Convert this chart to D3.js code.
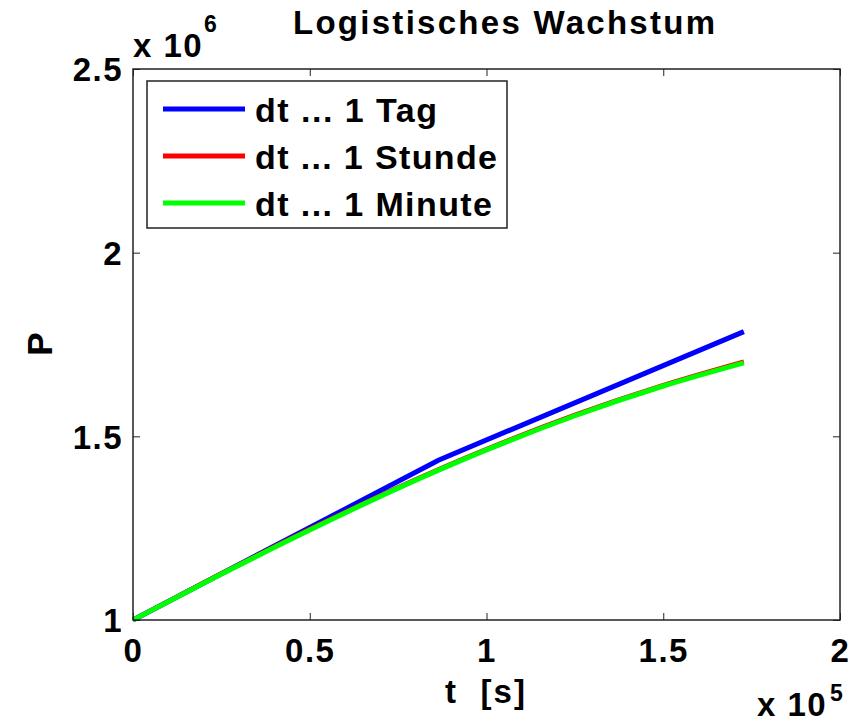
<!DOCTYPE html>
<html>
<head>
<meta charset="utf-8">
<script src="https://cdn.jsdelivr.net/npm/d3@7"></script>
<style>
  body { margin: 0; background: #fff; }
  text { font-family: "Liberation Sans", Arial, sans-serif; font-weight: bold; fill: #000; }
</style>
</head>
<body>
<svg id="chart" width="856" height="723"></svg>
<script>
// t in units of 1e5 s, P in units of 1e6
var seriesNames = ["dt ... 1 Tag", "dt ... 1 Stunde", "dt ... 1 Minute"];
var seriesColors = ["#0000ff", "#ff0000", "#00ff00"];

var tagT = [0, 0.864, 1.728];
var tagP = [1.0, 1.435, 1.785];

var stundeT = [0, 0.25, 0.5, 0.75, 1.0, 1.25, 1.5, 1.728];
var stundeP = [1.0, 1.127, 1.248, 1.362, 1.466, 1.559, 1.640, 1.704];

var minuteT = [0, 0.25, 0.5, 0.75, 1.0, 1.25, 1.5, 1.728];
var minuteP = [1.0, 1.125, 1.245, 1.359, 1.463, 1.556, 1.637, 1.700];

var xTicks = [0, 0.5, 1, 1.5, 2];
var yTicks = [1, 1.5, 2, 2.5];

(function() {
  var svg = d3.select("#chart");

  // axes box
  var mLeft = 133, mRight = 840, mTop = 69, mBottom = 620;

  var x = d3.scaleLinear().domain([0, 2]).range([mLeft, mRight]);
  var y = d3.scaleLinear().domain([1, 2.5]).range([mBottom, mTop]);

  function zip(ts, ps) { return ts.map(function(t, i) { return [t, ps[i]]; }); }
  var series = [zip(tagT, tagP), zip(stundeT, stundeP), zip(minuteT, minuteP)];

  // lines (blue is straight Euler steps, the others smooth)
  series.forEach(function(s, i) {
    var line = d3.line()
      .x(function(d) { return x(d[0]); })
      .y(function(d) { return y(d[1]); })
      .curve(i == 0 ? d3.curveLinear : d3.curveMonotoneX);
    svg.append("path")
      .datum(s)
      .attr("fill", "none")
      .attr("stroke", seriesColors[i])
      .attr("stroke-width", i == 1 ? 4 : 5)
      .attr("d", line);
  });

  // axes, ticks pointing inward
  var tickLen = 7;
  svg.append("g")
    .attr("transform", "translate(0," + mBottom + ")")
    .call(d3.axisBottom(x).tickValues(xTicks).tickSize(-tickLen)
      .tickFormat(function(d) { return d; }))
    .call(function(g) {
      g.select(".domain").remove();
      g.selectAll("text").attr("font-size", 33).attr("font-family", null)
        .attr("letter-spacing", 1.5).attr("y", 42).attr("dy", null);
    });
  svg.append("g")
    .attr("transform", "translate(0," + mTop + ")")
    .call(d3.axisTop(x).tickValues(xTicks).tickSize(-tickLen).tickFormat(""))
    .call(function(g) { g.select(".domain").remove(); });
  svg.append("g")
    .attr("transform", "translate(" + mLeft + ",0)")
    .call(d3.axisLeft(y).tickValues(yTicks).tickSize(-tickLen).tickPadding(10)
      .tickFormat(function(d) { return d; }))
    .call(function(g) {
      g.select(".domain").remove();
      g.selectAll("text").attr("font-size", 33).attr("font-family", null)
        .attr("letter-spacing", 1.5).attr("dy", "0.36em");
    });
  svg.append("g")
    .attr("transform", "translate(" + mRight + ",0)")
    .call(d3.axisRight(y).tickValues(yTicks).tickSize(-tickLen).tickFormat(""))
    .call(function(g) { g.select(".domain").remove(); });

  svg.selectAll(".tick line").attr("stroke", "#222");

  svg.append("rect")
    .attr("x", mLeft).attr("y", mTop)
    .attr("width", mRight - mLeft).attr("height", mBottom - mTop)
    .attr("fill", "none").attr("stroke", "#222").attr("stroke-width", 1.5);

  // legend
  var legendLen = [182, 242, 237];
  var legend = svg.append("g");
  legend.append("rect")
    .attr("x", 147).attr("y", 81).attr("width", 360).attr("height", 147)
    .attr("fill", "#fff").attr("stroke", "#222").attr("stroke-width", 1.5);
  seriesNames.forEach(function(name, i) {
    var ly = 109 + i * 47;
    legend.append("line")
      .attr("x1", 163).attr("x2", 245).attr("y1", ly).attr("y2", ly)
      .attr("stroke", seriesColors[i]).attr("stroke-width", 5);
    legend.append("text")
      .attr("x", 255).attr("y", ly + 13)
      .attr("font-size", 34)
      .attr("textLength", legendLen[i]).attr("lengthAdjust", "spacing")
      .text(name);
  });

  // title and labels
  svg.append("text")
    .attr("x", 293).attr("y", 34)
    .attr("font-size", 33)
    .attr("textLength", 422).attr("lengthAdjust", "spacing")
    .text("Logistisches Wachstum");

  svg.append("text")
    .attr("x", 445).attr("y", 703)
    .attr("font-size", 33)
    .attr("textLength", 80).attr("lengthAdjust", "spacing")
    .attr("xml:space", "preserve")
    .text("t  [s]");

  svg.append("text")
    .attr("transform", "translate(52,344) rotate(-90)")
    .attr("text-anchor", "middle").attr("font-size", 35)
    .text("P");

  // exponent labels
  var e6 = svg.append("text").attr("x", 133).attr("y", 57)
    .attr("font-size", 33).attr("letter-spacing", 1.5);
  e6.append("tspan").text("x 10");
  e6.append("tspan").attr("x", 204).attr("font-size", 23).attr("dy", -25).text("6");

  var e5 = svg.append("text").attr("x", 757).attr("y", 716)
    .attr("font-size", 33).attr("letter-spacing", 1.5);
  e5.append("tspan").text("x 10");
  e5.append("tspan").attr("x", 830).attr("font-size", 23).attr("dy", -15).text("5");
})();
</script>
</body>
</html>
